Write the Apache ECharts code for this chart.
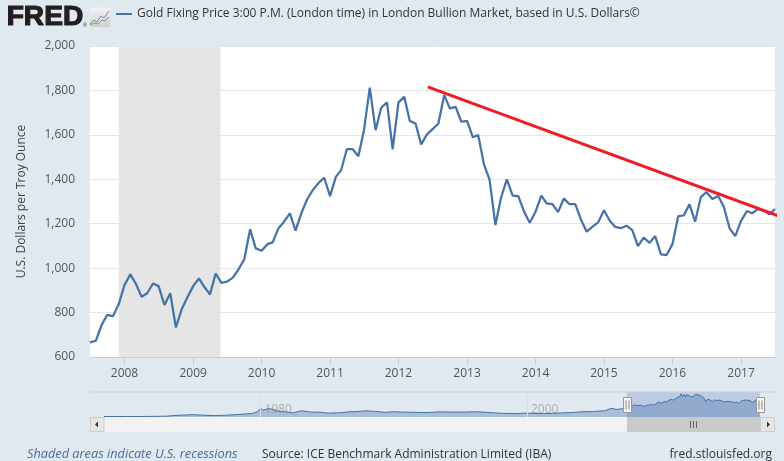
<!DOCTYPE html>
<html><head><meta charset="utf-8">
<style>html,body{margin:0;padding:0;background:#e1e9f0}#c{width:784px;height:461px}</style>
<script src="https://cdn.jsdelivr.net/npm/echarts@6/dist/echarts.min.js"></script>
</head><body><div id="c"></div>
<script>
const seriesName = 'Gold Fixing Price 3:00 P.M. (London time) in London Bullion Market, based in U.S. Dollars©';
const yAxisName = 'U.S. Dollars per Troy Ounce';
const firstMonth = '2007-07-01';
const goldPrice = [
 666,673,744,790,784,837,
 924,972,931,871,887,931,919,834,887,733,815,868,
 919,954,916,882,976,934,939,957,996,1040,1175,1089,
 1078,1108,1116,1179,1209,1247,1169,1247,1310,1351,1384,1407,
 1324,1411,1441,1536,1536,1504,1621,1813,1621,1722,1746,1535,
 1746,1771,1663,1651,1557,1602,1626,1651,1779,1719,1726,1659,
 1663,1589,1599,1467,1397,1194,1317,1400,1326,1324,1254,1204,
 1254,1326,1292,1288,1252,1314,1288,1288,1217,1164,1187,1206,
 1261,1213,1186,1180,1191,1171,1099,1137,1114,1144,1062,1059,
 1108,1234,1237,1287,1209,1321,1342,1311,1325,1276,1179,1144,
 1213,1257,1247,1266,1260,1242,1266
];
const recessionStart = '2007-12-01';
const recessionEnd = '2009-05-27';
const trendDates = ['2012-06-05','2017-08-18'];
const trendValues = [1816,1226];
const yearTicks = ['2008','2009','2010','2011','2012','2013','2014','2015','2016','2017'];
const historyDates = ['1968-04-01','1969-01-01','1970-01-01','1971-01-01','1972-01-01','1973-01-01','1973-07-01','1974-01-01','1974-12-01','1975-09-01','1976-08-01','1977-06-01','1978-01-01','1978-10-01','1979-06-01','1979-10-01','1980-01-01','1980-03-01','1980-09-01','1981-03-01','1981-09-01','1982-06-01','1983-02-01','1983-10-01','1984-06-01','1985-02-01','1985-12-01','1986-09-01','1987-03-01','1987-12-01','1988-08-01','1989-06-01','1990-01-01','1990-08-01','1991-06-01','1992-06-01','1993-07-01','1994-06-01','1995-06-01','1996-02-01','1996-12-01','1997-07-01','1998-01-01','1999-06-01','1999-10-01','2000-06-01','2001-03-01','2002-01-01','2002-09-01','2003-06-01','2004-03-01','2005-01-01','2005-12-01','2006-05-01','2006-10-01','2007-03-01'];
const historyValues = [38,42,35,38,48,66,120,140,185,140,105,142,175,225,280,390,675,540,670,480,440,320,490,385,375,300,325,410,420,485,435,365,410,385,365,345,400,385,385,410,370,325,290,260,300,285,265,285,320,350,410,425,500,680,590,650];
const navYearDates = ['1980-01-01','2000-01-01'];
const navYearLabels = ['1980','2000'];
const sourceText = 'Source: ICE Benchmark Administration Limited (IBA)';
const recessionNote = 'Shaded areas indicate U.S. recessions';
const siteText = 'fred.stlouisfed.org';
const logoText = 'FRED';

const FONT = '"Open Sans"';
const start = new Date(firstMonth + 'T00:00:00Z');
const monthly = goldPrice.map((v, i) => [Date.UTC(start.getUTCFullYear(), start.getUTCMonth() + i, 1), v]);
const ts = s => new Date(s + 'T00:00:00Z').getTime();
const navData = historyDates.map((d, i) => [ts(d), historyValues[i]]).concat(monthly);
const endT = monthly[monthly.length - 1][0];
const yearTs = yearTicks.map(y => ts(y + '-01-01'));

const chart = echarts.init(document.getElementById('c'), null, {renderer: 'canvas'});
const txt = (x, y, text, style, extra) => Object.assign({type:'text', x, y, silent:true, z:20,
  style:Object.assign({text, font:'12px '+FONT, fill:'#333', textVerticalAlign:'middle'}, style)}, extra||{});
const rect = (x, y, w, h, fill, stroke, z) => ({type:'rect', silent:true, z:z||10,
  shape:{x, y, width:w, height:h}, style:{fill, stroke:stroke||null, lineWidth:1}});
const vline = (x, y1, y2, stroke, z) => ({type:'line', silent:true, z:z||12, shape:{x1:x, y1, x2:x, y2}, style:{stroke, lineWidth:1}});
const handle = x => [rect(x-4, 397.5, 8, 15, '#f4f4f4', '#999', 15), vline(x-1.5, 400.5, 409.5, '#888', 16), vline(x+1.5, 400.5, 409.5, '#888', 16)];

chart.setOption({
  animation:false,
  backgroundColor:'#e1e9f0',
  textStyle:{fontFamily:FONT},
  legend:{left:116, top:8, itemWidth:16, itemHeight:2, icon:'rect', selectedMode:false, padding:0,
    data:[{name:seriesName, itemStyle:{color:'#4572a7'}}],
    textStyle:{fontFamily:FONT, fontSize:12, color:'#333'}},
  grid:[
    {left:90, top:46, width:685, height:311, show:true, backgroundColor:'#fff', borderWidth:0},
    {left:104, top:392, width:656, height:25, show:false}
  ],
  xAxis:[
    {type:'value', gridIndex:0, min:monthly[0][0], max:endT, scale:true,
      axisLine:{show:true, lineStyle:{color:'#c0d0e0', width:1}},
      splitLine:{show:false},
      axisTick:{show:true, length:8, customValues:yearTs, lineStyle:{color:'#c0d0e0'}},
      axisLabel:{customValues:yearTs, fontFamily:FONT, fontSize:12, color:'#555', margin:11,
        formatter:v => String(new Date(v).getUTCFullYear())}},
    {type:'value', gridIndex:1, min:ts(historyDates[0]), max:endT, scale:true,
      axisLine:{show:false}, axisTick:{show:false}, axisLabel:{show:false}, splitLine:{show:false}}
  ],
  yAxis:[
    {type:'value', gridIndex:0, min:600, max:2000, interval:200,
      name:yAxisName, nameLocation:'middle', nameGap:62, nameRotate:90,
      nameTextStyle:{fontFamily:FONT, fontSize:12, color:'#444'},
      axisLine:{show:false}, axisTick:{show:false},
      splitLine:{lineStyle:{color:'#e6e6e6', width:1}},
      axisLabel:{fontFamily:FONT, fontSize:12, color:'#555', margin:15, padding:[2,0,0,0],
        formatter:v => v.toLocaleString('en-US')}},
    {type:'value', gridIndex:1, min:0, max:1950, show:false, splitLine:{show:false}}
  ],
  series:[
    {name:seriesName, type:'line', xAxisIndex:0, yAxisIndex:0, data:monthly, showSymbol:false, symbol:'none',
      lineStyle:{color:'#4572a7', width:2.25}, itemStyle:{color:'#4572a7'}, z:3,
      markArea:{silent:true, itemStyle:{color:'#e5e5e5'}, data:[[{xAxis:ts(recessionStart)},{xAxis:ts(recessionEnd)}]]}},
    {name:'Trend', type:'line', xAxisIndex:0, yAxisIndex:0, clip:false, showSymbol:false, symbol:'none', z:4,
      data:trendDates.map((d,i)=>[ts(d),trendValues[i]]),
      lineStyle:{color:'#ee1c25', width:3}},
    {name:'Navigator', type:'line', xAxisIndex:1, yAxisIndex:1, data:navData, showSymbol:false, symbol:'none', z:3,
      lineStyle:{color:'#4572a7', width:1}, areaStyle:{color:'rgba(69,114,167,0.5)'},
      markArea:{silent:true, itemStyle:{color:'rgba(102,133,194,0.3)'}, data:[[{xAxis:monthly[0][0]},{xAxis:endT}]]},
      markLine:{silent:true, symbol:'none', label:{show:false}, lineStyle:{color:'#d8e0e7', width:1, type:'solid'},
        data:navYearDates.map(d=>({xAxis:ts(d)}))}},
    {name:'NavYears', type:'scatter', xAxisIndex:1, yAxisIndex:1, symbolSize:0, z:5, silent:true,
      data:navYearDates.map((d,i)=>({value:[ts(d),600], name:navYearLabels[i]})),
      label:{show:true, position:'right', distance:4, formatter:'{b}', fontFamily:FONT, fontSize:12, color:'rgba(120,120,120,0.65)'}}
  ],
  graphic:[
    txt(7, 18, logoText, {font:'900 27px "Liberation Sans"', fill:'#231f20', stroke:'#231f20', lineWidth:1.2}, {scaleX:1.04, originX:7}),
    txt(83, 25.5, '®', {font:'5px "Liberation Sans"', fill:'#231f20'}),
    {type:'rect', silent:true, z:10, shape:{x:89.5, y:7.5, width:21, height:19.5, r:2},
      style:{fill:new echarts.graphic.LinearGradient(0,0,0,1,[{offset:0,color:'#f3f3f3'},{offset:1,color:'#cfcfcf'}])}},
    {type:'polyline', silent:true, z:11, shape:{points:[[90,24],[94,20],[97,22],[101,16],[104,18],[109,11]]}, style:{stroke:'#6f93c0', lineWidth:1, fill:null}},
    {type:'polyline', silent:true, z:11, shape:{points:[[90,25],[94,23],[98,24],[102,20],[105,21],[109,17]]}, style:{stroke:'#7ca34f', lineWidth:1, fill:null}},
    rect(90, 391.5, 685, 1, '#cfcfcf', null, 2),
    rect(90, 417, 685, 15, '#f2f2f2', null, 9),
    rect(90.5, 417.5, 13.5, 14, '#e6e6e6', '#ccc'),
    {type:'polygon', silent:true, z:12, shape:{points:[[95,424.5],[98,421.5],[98,427.5]]}, style:{fill:'#333'}},
    rect(627, 417, 133.5, 15, '#c9c9c9', null),
    rect(760.5, 417.5, 14, 14, '#e6e6e6', '#ccc'),
    {type:'polygon', silent:true, z:12, shape:{points:[[770,424.5],[767,421.5],[767,427.5]]}, style:{fill:'#333'}},
    vline(690.5, 421, 428, '#666'), vline(693.5, 421, 428, '#666'), vline(696.5, 421, 428, '#666'),
    ...handle(627.5), ...handle(760.5),
    txt(27, 454.5, recessionNote, {font:'italic 12.75px '+FONT, fill:'#4a6b9c'}),
    txt(262, 454.5, sourceText, {font:'12px '+FONT, fill:'#333'}),
    txt(772, 454.5, siteText, {font:'12px '+FONT, fill:'#333', textAlign:'right'})
  ]
});
</script></body></html>
